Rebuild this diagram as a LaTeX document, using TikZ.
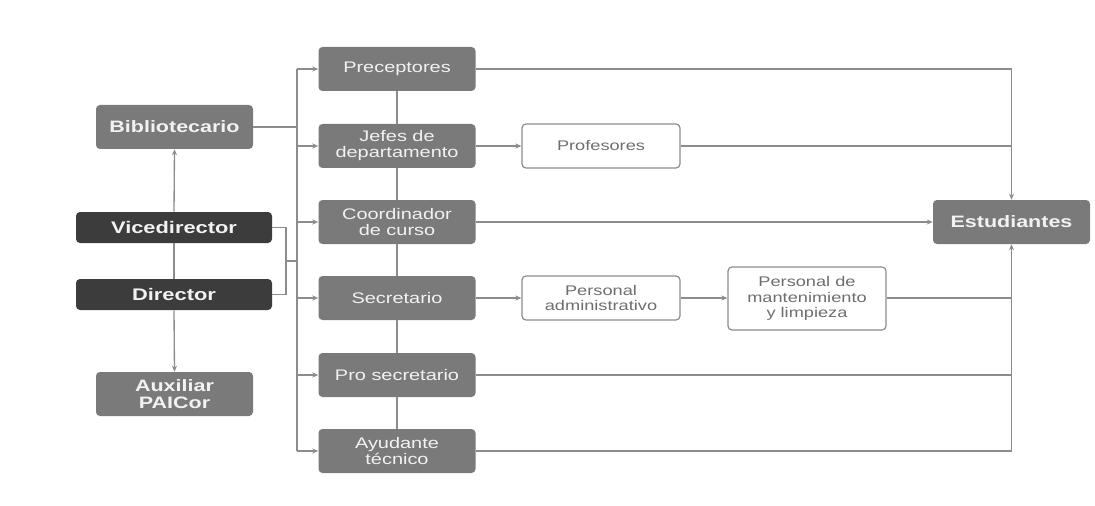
\documentclass[tikz,border=0pt]{standalone}
\usepackage{fontspec}
\newfontfamily\diagfont[FakeStretch=1.3]{Liberation Sans}
\usetikzlibrary{arrows.meta}
\definecolor{midgray}{HTML}{7A7A7A}
\definecolor{darkbox}{HTML}{3C3C3C}
\definecolor{linegray}{HTML}{8C8C8C}
\definecolor{txtgray}{HTML}{6E6E6E}
\definecolor{txtlight}{HTML}{F2F2F2}
\tikzset{
  base/.style={rounded corners=3pt, align=center, inner sep=0pt, font=\diagfont\fontsize{11.5}{12}\selectfont},
  midbox/.style={base, fill=midgray, text=txtlight, minimum width=117.75pt, minimum height=33pt},
  leftbox/.style={base, fill=midgray, text=txtlight, minimum width=117.75pt, minimum height=33pt, font=\diagfont\bfseries\fontsize{12.4}{12.5}\selectfont},
  darkbx/.style={base, fill=darkbox, text=txtlight, minimum width=147pt, minimum height=23.25pt, font=\diagfont\bfseries\fontsize{12.6}{12}\selectfont},
  whitebox/.style={base, draw=linegray, line width=0.9pt, fill=white, text=txtgray, minimum width=118.5pt, minimum height=33pt, font=\diagfont\fontsize{10.5}{11.5}\selectfont},
  conn/.style={draw=linegray, line width=1pt},
  arr/.style={conn, -{Stealth[length=4.5pt,width=3.8pt]}, color=linegray}
}
\begin{document}
\begin{tikzpicture}[x=0.75pt,y=-0.75pt]
\useasboundingbox[fill=white] (0,0) rectangle (1095,506);
% left column
\node[leftbox] (bib) at (174.5,127) {Bibliotecario};
\node[darkbx] (vice) at (174,227.5) {Vicedirector};
\node[darkbx] (dir) at (174,294.5) {Director};
\node[leftbox] (aux) at (174.5,394) {Auxiliar\\PAICor};
% middle column
\node[midbox] (pre) at (397,69) {Preceptores};
\node[midbox] (jef) at (397,146) {Jefes de\\departamento};
\node[midbox] (coo) at (397,222) {Coordinador\\de curso};
\node[midbox] (sec) at (397,298) {Secretario};
\node[midbox] (pro) at (397,375) {Pro secretario};
\node[midbox] (ayu) at (397,451) {Ayudante\\técnico};
% right boxes
\node[whitebox] (prof) at (601,146) {Profesores};
\node[whitebox] (adm) at (601,298) {Personal\\administrativo};
\node[whitebox, minimum height=47.25pt] (man) at (807,298.5) {Personal de\\mantenimiento\\y limpieza};
\node[leftbox] (est) at (1011.5,222) {Estudiantes};
% left connectors
\draw[arr] (vice.north) -- (bib.south);
\draw[conn] (vice.south) -- (dir.north);
\draw[arr] (dir.south) -- (aux.north);
% trunk
\coordinate (ttop) at (297,69);
\coordinate (tbot) at (297,451);
\coordinate (br) at (286,261);
\draw[conn] (ttop) -- (tbot);
\draw[conn] (bib.east) -- (bib.east -| ttop);
\draw[conn] (vice.east) -| (br) |- (dir.east);
\draw[conn] (br) -- (br -| ttop);
\draw[arr] (ttop) -- (pre.west);
\draw[arr] (jef.west -| ttop) -- (jef.west);
\draw[arr] (coo.west -| ttop) -- (coo.west);
\draw[arr] (sec.west -| ttop) -- (sec.west);
\draw[arr] (pro.west -| ttop) -- (pro.west);
\draw[arr] (tbot) -- (ayu.west);
% middle vertical links
\draw[conn] (pre.south) -- (jef.north);
\draw[conn] (jef.south) -- (coo.north);
\draw[conn] (coo.south) -- (sec.north);
\draw[conn] (sec.south) -- (pro.north);
\draw[conn] (pro.south) -- (ayu.north);
% to the right
\draw[arr] (jef.east) -- (prof.west);
\draw[arr] (sec.east) -- (adm.west);
\draw[arr] (adm.east) -- (man.west |- adm.east);
\draw[arr] (pre.east) -| (est.north);
\draw[conn] (prof.east) -- (prof.east -| est.north);
\draw[arr] (coo.east) -- (est.west);
\draw[conn] (man.east |- adm.east) -- (adm.east -| est.south);
\draw[conn] (pro.east) -- (pro.east -| est.south);
\draw[arr] (ayu.east) -| (est.south);
\end{tikzpicture}
\end{document}
